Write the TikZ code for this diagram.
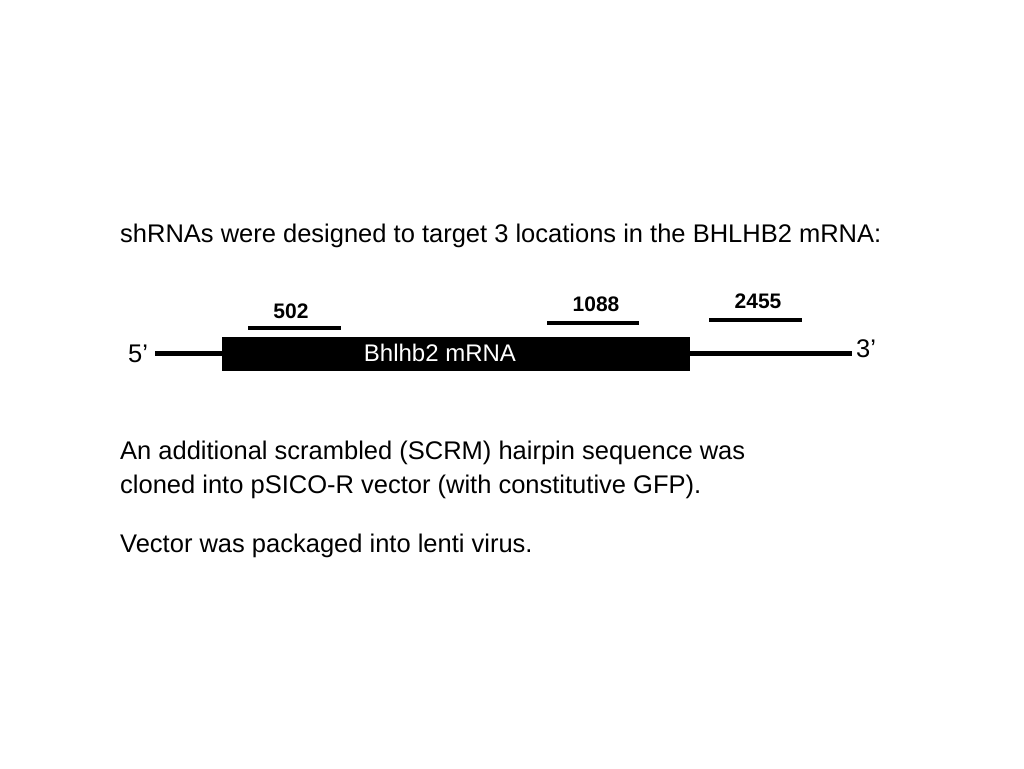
\documentclass[tikz,border=0pt]{standalone}
\usepackage{fontspec}
\setmainfont{Liberation Sans}
\tikzstyle{txt} = [anchor=west, inner sep=0pt, font=\fontsize{25.5}{30}\selectfont]
\tikzstyle{lbl} = [inner sep=0pt, font=\bfseries\fontsize{21}{25}\selectfont]
\tikzstyle{bar} = [draw, line width=4pt]
\tikzstyle{line} = [draw, line width=5pt]
\begin{document}
\begin{tikzpicture}[x=1pt, y=-1pt]
    \useasboundingbox (0,0) rectangle (1024,768);
    \node[txt] (title) at (120,236) {shRNAs were designed to target 3 locations in the BHLHB2 mRNA:};

    % mRNA
    \node[fill=black, minimum width=468pt, minimum height=34pt, inner sep=0pt] (mrna) at (456,354) {};
    \node[inner sep=0pt, text=white, font=\fontsize{24}{28}\selectfont] (name) at (440,353) {Bhlhb2 mRNA};
    \coordinate (left) at (155,353);
    \coordinate (right) at (852,353);
    \draw[line] (left) -- (left -| mrna.west);
    \draw[line] (right -| mrna.east) -- (right);
    \node[txt, anchor=center] (five) at (138,354) {5’};
    \node[txt, anchor=center] (three) at (866,349) {3’};

    % targets
    \coordinate (a1) at (248,328); \coordinate (a2) at (341,328);
    \coordinate (b1) at (547,323); \coordinate (b2) at (639,323);
    \coordinate (c1) at (709,320); \coordinate (c2) at (802,320);
    \draw[bar] (a1) -- (a2);
    \draw[bar] (b1) -- (b2);
    \draw[bar] (c1) -- (c2);
    \node[lbl] (l502) at (291,311) {502};
    \node[lbl] (l1088) at (596,304) {1088};
    \node[lbl] (l2455) at (758,301) {2455};

    % notes
    \node[txt] (note1) at (120,453) {An additional scrambled (SCRM) hairpin sequence was};
    \node[txt] (note2) at (120,487) {cloned into pSICO-R vector (with constitutive GFP).};
    \node[txt] (note3) at (120,546) {Vector was packaged into lenti virus.};
\end{tikzpicture}
\end{document}
